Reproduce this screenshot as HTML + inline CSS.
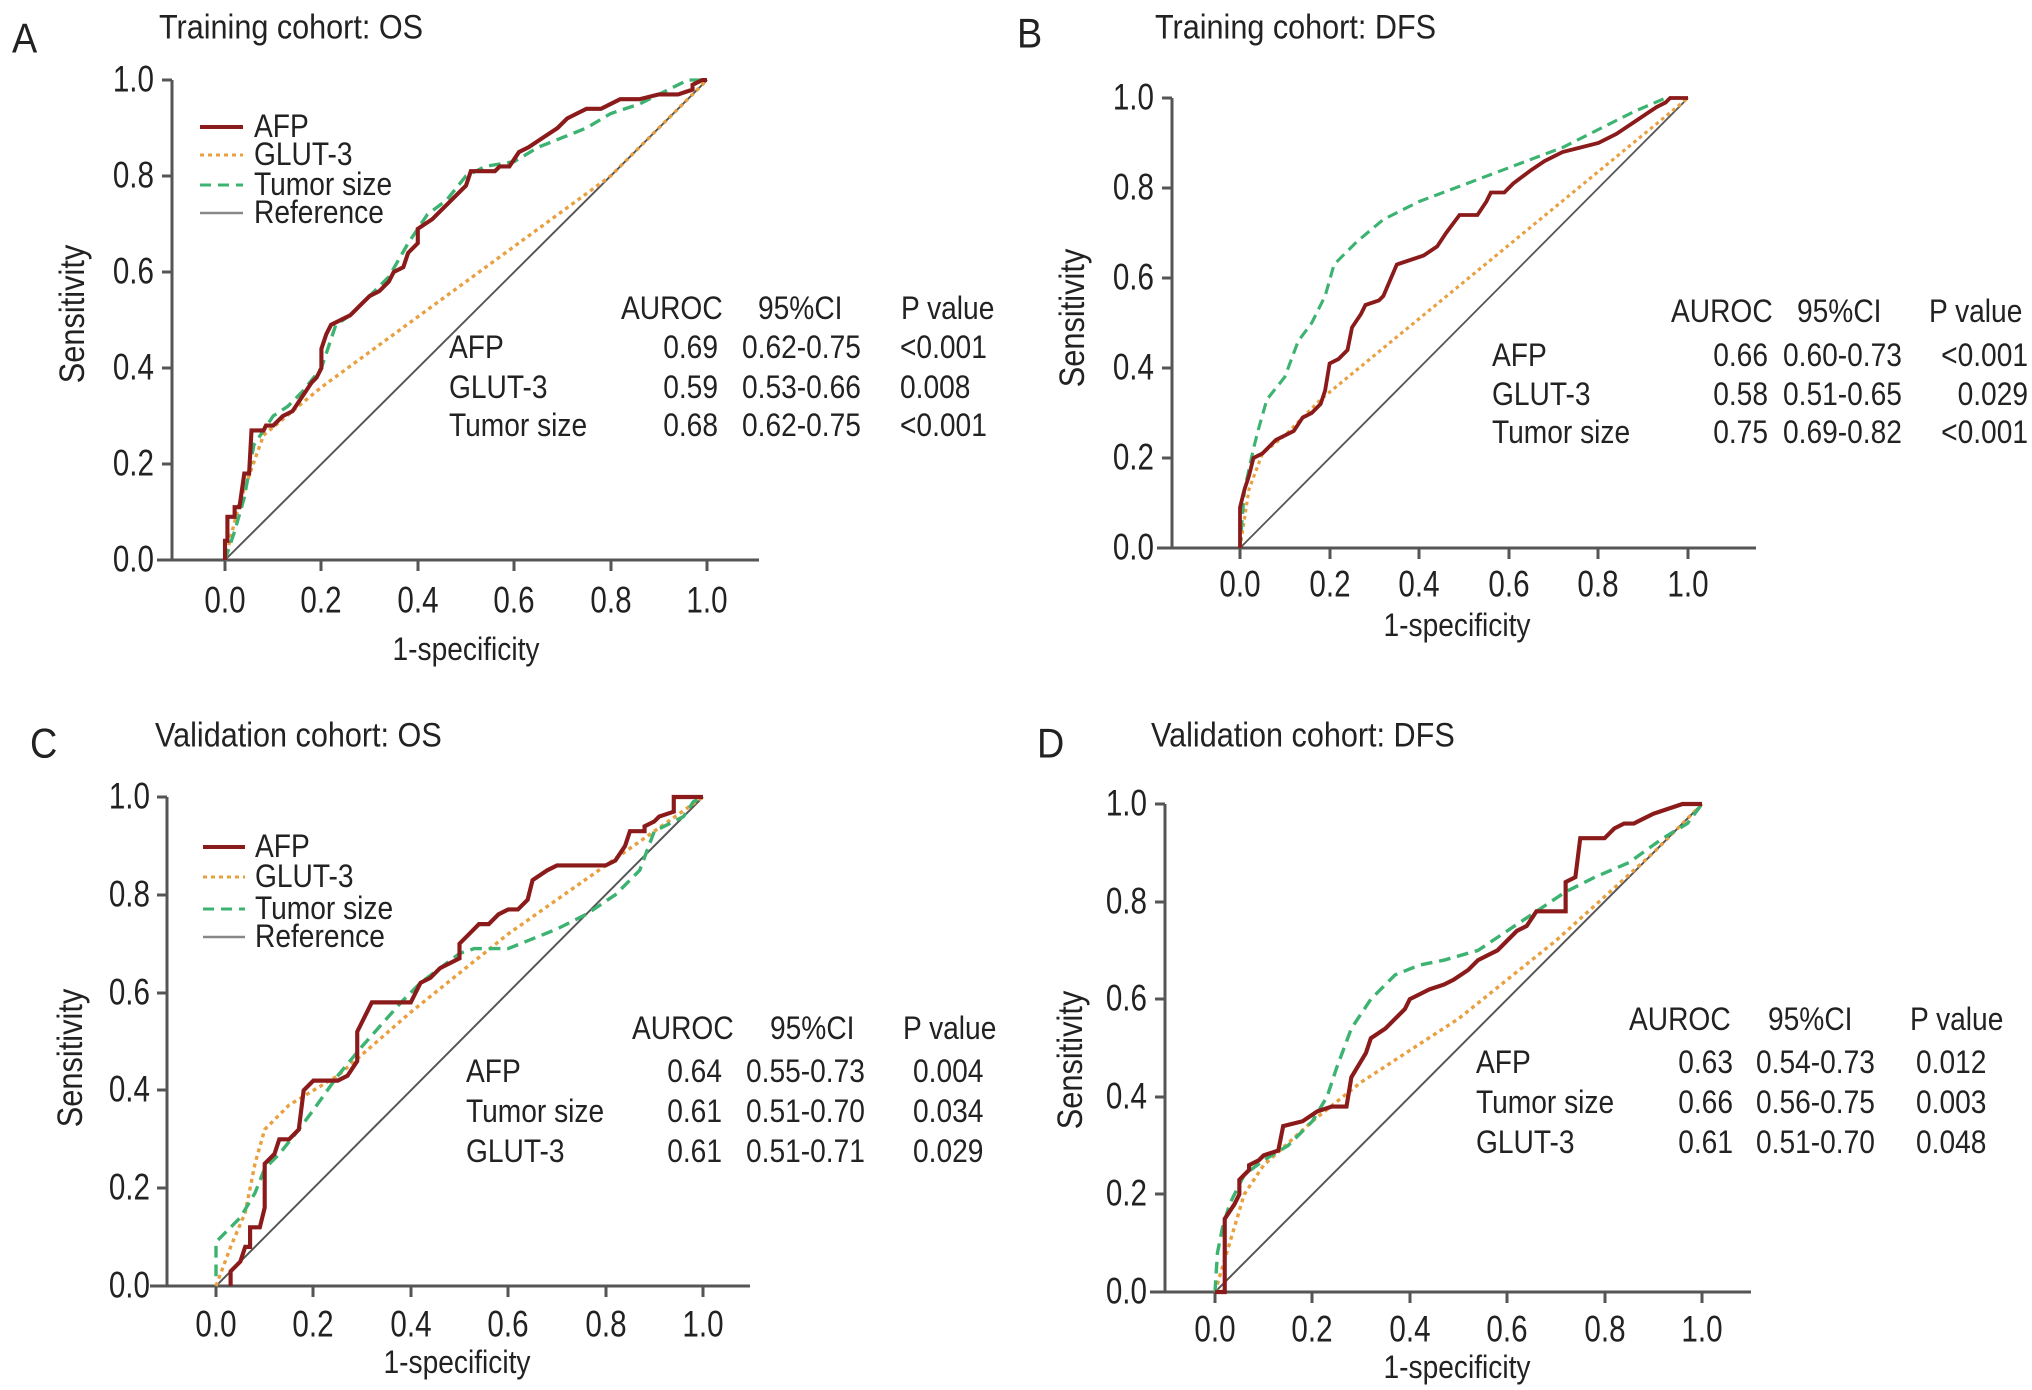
<!DOCTYPE html>
<html><head><meta charset="utf-8"><style>
html,body{margin:0;padding:0;background:#fff}
svg{display:block}
text{font-family:"Liberation Sans",Arial,sans-serif;fill:#222;dominant-baseline:central}
.k{font-size:37px}
.m{font-size:32px}
.t{font-size:34px}
.L{font-size:42px}
.ax{stroke:#555;stroke-width:3;fill:none}
.ref{stroke:#555;stroke-width:4;fill:none}
.afp{stroke:#8b1a1a;stroke-width:8.5;fill:none;stroke-linejoin:miter}
.glut{stroke:#e8a040;stroke-width:7;fill:none;stroke-dasharray:8 8}
.tum{stroke:#3cb371;stroke-width:7;fill:none;stroke-dasharray:24 14}
</style></head><body>
<svg width="2032" height="1390" viewBox="0 0 2032 1390" xmlns="http://www.w3.org/2000/svg">

<!-- ================= PANEL A ================= -->
<text class="L" transform="translate(12 39) scale(.9 1)">A</text>
<text class="t" transform="translate(159 27) scale(.9 1)">Training cohort: OS</text>
<path class="ax" d="M172,80 V560 M157,560 H759"/>
<path class="ax" d="M162,80 H172 M162,176 H172 M162,272 H172 M162,368 H172 M162,464 H172 M162,560 H172 M225,560 V571 M321,560 V571 M418,560 V571 M514,560 V571 M611,560 V571 M707,560 V571"/>
<g text-anchor="end" class="k">
<text transform="translate(154 80) scale(.8 1)">1.0</text><text transform="translate(154 176) scale(.8 1)">0.8</text><text transform="translate(154 272) scale(.8 1)">0.6</text><text transform="translate(154 368) scale(.8 1)">0.4</text><text transform="translate(154 464) scale(.8 1)">0.2</text><text transform="translate(154 560) scale(.8 1)">0.0</text></g>
<g text-anchor="middle" class="k">
<text transform="translate(225 601) scale(.8 1)">0.0</text><text transform="translate(321 601) scale(.8 1)">0.2</text><text transform="translate(418 601) scale(.8 1)">0.4</text><text transform="translate(514 601) scale(.8 1)">0.6</text><text transform="translate(611 601) scale(.8 1)">0.8</text><text transform="translate(707 601) scale(.8 1)">1.0</text></g>
<g text-anchor="middle" class="m">
<text transform="translate(466 650) scale(.88 1)">1-specificity</text>
<text transform="translate(72 314) rotate(-90) scale(.88 1)" style="font-size:35px">Sensitivity</text></g>
<g transform="translate(225,560) scale(0.482,-0.48)">
<path class="ref" d="M0,0 L1000,1000"/>
<path class="glut" d="M0,0 L30,120 80,260 200,360 500,580 800,800 1000,1000"/>
<path class="tum" d="M0,0 L20,60 40,130 60,240 80,270 100,300 130,320 160,350 200,400 230,490 260,510 300,550 340,590 380,660 420,720 460,750 500,800 540,820 600,830 650,860 700,880 750,900 800,930 860,950 920,980 960,1000 1000,1000"/>
<path class="afp" d="M0,0 L0,40 5,40 5,90 20,90 20,110 30,110 40,180 50,180 55,270 80,270 85,280 100,280 120,300 140,310 160,340 180,370 190,380 200,400 200,440 210,470 220,490 240,500 260,510 280,530 300,550 320,560 340,580 350,600 370,610 380,640 400,660 400,690 430,710 450,730 460,740 480,760 500,780 510,810 530,810 560,810 570,820 590,820 610,850 630,860 660,880 690,900 710,920 730,930 750,940 780,940 800,950 820,960 860,960 900,970 940,970 970,980 970,990 990,1000 1000,1000"/>
</g>
<path class="afp" d="M200,127 H243" style="stroke-width:4"/>
<path class="glut" d="M200,155 H243" style="stroke-width:3;stroke-dasharray:4 4"/>
<path class="tum" d="M200,185 H243" style="stroke-width:3;stroke-dasharray:11 7"/>
<path class="ref" d="M200,213 H243" style="stroke-width:2.5;stroke:#888"/>
<g class="m">
<text transform="translate(254 127) scale(.88 1)">AFP</text><text transform="translate(254 155) scale(.88 1)">GLUT-3</text><text transform="translate(254 185) scale(.88 1)">Tumor size</text><text transform="translate(254 213) scale(.88 1)">Reference</text>
<text transform="translate(621 309) scale(.88 1)">AUROC</text><text transform="translate(758 309) scale(.88 1)">95%CI</text><text transform="translate(901 309) scale(.88 1)">P value</text>
<text transform="translate(449 348) scale(.88 1)">AFP</text><text transform="translate(449 388) scale(.88 1)">GLUT-3</text><text transform="translate(449 426) scale(.88 1)">Tumor size</text>
<g text-anchor="end"><text transform="translate(718 348) scale(.88 1)">0.69</text><text transform="translate(718 388) scale(.88 1)">0.59</text><text transform="translate(718 426) scale(.88 1)">0.68</text></g>
<text transform="translate(742 348) scale(.88 1)">0.62-0.75</text><text transform="translate(742 388) scale(.88 1)">0.53-0.66</text><text transform="translate(742 426) scale(.88 1)">0.62-0.75</text>
<text transform="translate(900 348) scale(.88 1)">&lt;0.001</text><text transform="translate(900 388) scale(.88 1)">0.008</text><text transform="translate(900 426) scale(.88 1)">&lt;0.001</text>
</g>

<!-- ================= PANEL B ================= -->
<text class="L" transform="translate(1017 34) scale(.9 1)">B</text>
<text class="t" transform="translate(1155 27) scale(.9 1)">Training cohort: DFS</text>
<path class="ax" d="M1172,98 V548 M1157,548 H1756"/>
<path class="ax" d="M1162,98 H1172 M1162,188 H1172 M1162,278 H1172 M1162,368 H1172 M1162,458 H1172 M1162,548 H1172 M1240,548 V559 M1330,548 V559 M1419,548 V559 M1509,548 V559 M1598,548 V559 M1688,548 V559"/>
<g text-anchor="end" class="k">
<text transform="translate(1154 98) scale(.8 1)">1.0</text><text transform="translate(1154 188) scale(.8 1)">0.8</text><text transform="translate(1154 278) scale(.8 1)">0.6</text><text transform="translate(1154 368) scale(.8 1)">0.4</text><text transform="translate(1154 458) scale(.8 1)">0.2</text><text transform="translate(1154 548) scale(.8 1)">0.0</text></g>
<g text-anchor="middle" class="k">
<text transform="translate(1240 585) scale(.8 1)">0.0</text><text transform="translate(1330 585) scale(.8 1)">0.2</text><text transform="translate(1419 585) scale(.8 1)">0.4</text><text transform="translate(1509 585) scale(.8 1)">0.6</text><text transform="translate(1598 585) scale(.8 1)">0.8</text><text transform="translate(1688 585) scale(.8 1)">1.0</text></g>
<g text-anchor="middle" class="m">
<text transform="translate(1457 626) scale(.88 1)">1-specificity</text>
<text transform="translate(1072 318) rotate(-90) scale(.88 1)" style="font-size:35px">Sensitivity</text></g>
<g transform="translate(1240,548) scale(0.448,-0.45)">
<path class="ref" d="M0,0 L1000,1000"/>
<path class="glut" d="M0,0 L20,130 50,210 100,250 180,330 1000,1000"/>
<path class="tum" d="M0,0 L10,130 30,220 40,260 60,330 100,380 130,460 160,500 190,560 210,630 260,680 320,730 400,770 480,800 560,830 640,860 720,890 800,930 880,970 950,1000 1000,1000"/>
<path class="afp" d="M0,0 L0,90 10,130 20,160 30,200 50,210 80,240 100,250 120,260 140,290 160,300 180,320 190,350 200,410 220,420 240,440 250,490 270,520 280,540 310,550 320,560 350,630 380,640 410,650 440,670 460,700 490,740 510,740 530,740 550,770 560,790 590,790 610,810 650,840 680,860 720,880 760,890 800,900 840,920 870,940 900,960 930,980 950,990 960,1000 1000,1000"/>
</g>
<g class="m">
<text transform="translate(1671 312) scale(.88 1)">AUROC</text><text transform="translate(1797 312) scale(.88 1)">95%CI</text><text transform="translate(1929 312) scale(.88 1)">P value</text>
<text transform="translate(1492 356) scale(.88 1)">AFP</text><text transform="translate(1492 395) scale(.88 1)">GLUT-3</text><text transform="translate(1492 433) scale(.88 1)">Tumor size</text>
<g text-anchor="end"><text transform="translate(1768 356) scale(.88 1)">0.66</text><text transform="translate(1768 395) scale(.88 1)">0.58</text><text transform="translate(1768 433) scale(.88 1)">0.75</text>
<text transform="translate(2028 356) scale(.88 1)">&lt;0.001</text><text transform="translate(2028 395) scale(.88 1)">0.029</text><text transform="translate(2028 433) scale(.88 1)">&lt;0.001</text></g>
<text transform="translate(1783 356) scale(.88 1)">0.60-0.73</text><text transform="translate(1783 395) scale(.88 1)">0.51-0.65</text><text transform="translate(1783 433) scale(.88 1)">0.69-0.82</text>
</g>

<!-- ================= PANEL C ================= -->
<text class="L" transform="translate(30 744) scale(.9 1)">C</text>
<text class="t" transform="translate(155 735) scale(.9 1)">Validation cohort: OS</text>
<path class="ax" d="M167,797 V1286 M150,1286 H750"/>
<path class="ax" d="M157,797 H167 M157,895 H167 M157,993 H167 M157,1090 H167 M157,1188 H167 M157,1286 H167 M216,1286 V1297 M313,1286 V1297 M411,1286 V1297 M508,1286 V1297 M606,1286 V1297 M703,1286 V1297"/>
<g text-anchor="end" class="k">
<text transform="translate(150 797) scale(.8 1)">1.0</text><text transform="translate(150 895) scale(.8 1)">0.8</text><text transform="translate(150 993) scale(.8 1)">0.6</text><text transform="translate(150 1090) scale(.8 1)">0.4</text><text transform="translate(150 1188) scale(.8 1)">0.2</text><text transform="translate(150 1286) scale(.8 1)">0.0</text></g>
<g text-anchor="middle" class="k">
<text transform="translate(216 1325) scale(.8 1)">0.0</text><text transform="translate(313 1325) scale(.8 1)">0.2</text><text transform="translate(411 1325) scale(.8 1)">0.4</text><text transform="translate(508 1325) scale(.8 1)">0.6</text><text transform="translate(606 1325) scale(.8 1)">0.8</text><text transform="translate(703 1325) scale(.8 1)">1.0</text></g>
<g text-anchor="middle" class="m">
<text transform="translate(457 1363) scale(.88 1)">1-specificity</text>
<text transform="translate(70 1058) rotate(-90) scale(.88 1)" style="font-size:35px">Sensitivity</text></g>
<g transform="translate(216,1286) scale(0.487,-0.489)">
<path class="ref" d="M0,0 L1000,1000"/>
<path class="glut" d="M0,0 L30,80 60,150 80,250 100,320 150,370 250,430 400,560 600,720 800,860 1000,1000"/>
<path class="tum" d="M0,20 L0,90 20,110 50,140 80,190 100,240 130,270 170,320 200,360 250,430 300,490 380,580 420,620 500,680 530,690 600,690 650,710 700,730 760,760 820,800 850,830 870,850 900,930 960,960 980,990 1000,1000"/>
<path class="afp" d="M30,0 L30,30 50,50 60,80 70,80 70,120 90,120 100,160 100,250 120,270 130,300 150,300 170,320 180,400 200,420 250,420 270,430 290,460 290,520 310,560 320,580 400,580 410,600 420,620 440,630 460,650 480,660 500,670 500,700 520,720 540,740 560,740 580,760 600,770 620,770 640,790 650,830 680,850 700,860 800,860 820,870 840,900 850,930 880,930 880,940 900,950 910,960 940,970 940,1000 1000,1000"/>
</g>
<path class="afp" d="M203,847 H245" style="stroke-width:4"/>
<path class="glut" d="M203,877 H245" style="stroke-width:3;stroke-dasharray:4 4"/>
<path class="tum" d="M203,909 H245" style="stroke-width:3;stroke-dasharray:11 7"/>
<path class="ref" d="M203,937 H245" style="stroke-width:2.5;stroke:#888"/>
<g class="m">
<text transform="translate(255 847) scale(.88 1)">AFP</text><text transform="translate(255 877) scale(.88 1)">GLUT-3</text><text transform="translate(255 909) scale(.88 1)">Tumor size</text><text transform="translate(255 937) scale(.88 1)">Reference</text>
<text transform="translate(632 1029) scale(.88 1)">AUROC</text><text transform="translate(770 1029) scale(.88 1)">95%CI</text><text transform="translate(903 1029) scale(.88 1)">P value</text>
<text transform="translate(466 1072) scale(.88 1)">AFP</text><text transform="translate(466 1112) scale(.88 1)">Tumor size</text><text transform="translate(466 1152) scale(.88 1)">GLUT-3</text>
<g text-anchor="end"><text transform="translate(722 1072) scale(.88 1)">0.64</text><text transform="translate(722 1112) scale(.88 1)">0.61</text><text transform="translate(722 1152) scale(.88 1)">0.61</text></g>
<text transform="translate(746 1072) scale(.88 1)">0.55-0.73</text><text transform="translate(746 1112) scale(.88 1)">0.51-0.70</text><text transform="translate(746 1152) scale(.88 1)">0.51-0.71</text>
<text transform="translate(913 1072) scale(.88 1)">0.004</text><text transform="translate(913 1112) scale(.88 1)">0.034</text><text transform="translate(913 1152) scale(.88 1)">0.029</text>
</g>

<!-- ================= PANEL D ================= -->
<text class="L" transform="translate(1037 744) scale(.9 1)">D</text>
<text class="t" transform="translate(1151 735) scale(.9 1)">Validation cohort: DFS</text>
<path class="ax" d="M1165,804 V1292 M1150,1292 H1751"/>
<path class="ax" d="M1155,804 H1165 M1155,902 H1165 M1155,999 H1165 M1155,1097 H1165 M1155,1194 H1165 M1155,1292 H1165 M1215,1292 V1303 M1312,1292 V1303 M1410,1292 V1303 M1507,1292 V1303 M1605,1292 V1303 M1702,1292 V1303"/>
<g text-anchor="end" class="k">
<text transform="translate(1147 804) scale(.8 1)">1.0</text><text transform="translate(1147 902) scale(.8 1)">0.8</text><text transform="translate(1147 999) scale(.8 1)">0.6</text><text transform="translate(1147 1097) scale(.8 1)">0.4</text><text transform="translate(1147 1194) scale(.8 1)">0.2</text><text transform="translate(1147 1292) scale(.8 1)">0.0</text></g>
<g text-anchor="middle" class="k">
<text transform="translate(1215 1330) scale(.8 1)">0.0</text><text transform="translate(1312 1330) scale(.8 1)">0.2</text><text transform="translate(1410 1330) scale(.8 1)">0.4</text><text transform="translate(1507 1330) scale(.8 1)">0.6</text><text transform="translate(1605 1330) scale(.8 1)">0.8</text><text transform="translate(1702 1330) scale(.8 1)">1.0</text></g>
<g text-anchor="middle" class="m">
<text transform="translate(1457 1368) scale(.88 1)">1-specificity</text>
<text transform="translate(1070 1060) rotate(-90) scale(.88 1)" style="font-size:35px">Sensitivity</text></g>
<g transform="translate(1215,1292) scale(0.487,-0.488)">
<path class="ref" d="M0,0 L1000,1000"/>
<path class="glut" d="M0,0 L30,100 60,200 100,260 200,350 300,430 500,560 700,720 900,900 1000,1000"/>
<path class="tum" d="M0,0 L5,80 15,130 30,180 60,240 100,270 150,300 200,350 230,400 250,460 280,540 320,600 370,650 420,670 470,680 540,700 600,740 660,780 720,820 780,850 850,880 920,930 970,960 1000,1000"/>
<path class="afp" d="M0,0 L20,0 20,150 40,180 50,200 50,230 70,250 70,260 90,270 100,280 130,290 140,340 180,350 210,370 240,380 270,380 280,440 310,490 320,520 350,540 370,560 390,580 400,600 420,610 440,620 470,630 490,640 520,660 540,680 560,690 580,700 600,720 620,740 640,750 660,780 720,780 720,840 740,850 750,930 800,930 810,940 820,950 840,960 860,960 880,970 900,980 930,990 960,1000 1000,1000"/>
</g>
<g class="m">
<text transform="translate(1629 1020) scale(.88 1)">AUROC</text><text transform="translate(1768 1020) scale(.88 1)">95%CI</text><text transform="translate(1910 1020) scale(.88 1)">P value</text>
<text transform="translate(1476 1063) scale(.88 1)">AFP</text><text transform="translate(1476 1103) scale(.88 1)">Tumor size</text><text transform="translate(1476 1143) scale(.88 1)">GLUT-3</text>
<g text-anchor="end"><text transform="translate(1733 1063) scale(.88 1)">0.63</text><text transform="translate(1733 1103) scale(.88 1)">0.66</text><text transform="translate(1733 1143) scale(.88 1)">0.61</text></g>
<text transform="translate(1756 1063) scale(.88 1)">0.54-0.73</text><text transform="translate(1756 1103) scale(.88 1)">0.56-0.75</text><text transform="translate(1756 1143) scale(.88 1)">0.51-0.70</text>
<text transform="translate(1916 1063) scale(.88 1)">0.012</text><text transform="translate(1916 1103) scale(.88 1)">0.003</text><text transform="translate(1916 1143) scale(.88 1)">0.048</text>
</g>
</svg>
</body></html>
